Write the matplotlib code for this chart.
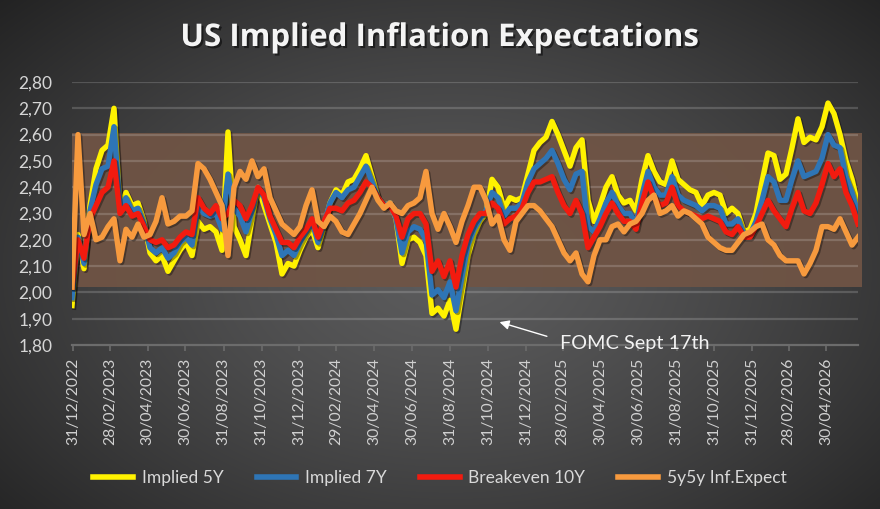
import numpy as np
import pandas as pd
import matplotlib
matplotlib.use("Agg")
import matplotlib.pyplot as plt
import matplotlib.dates as mdates
import matplotlib.patheffects as pe

# ---------------- data ----------------
implied_5y = [1.95, 2.22, 2.09, 2.33, 2.47, 2.54, 2.56, 2.70, 2.32, 2.38, 2.33, 2.34, 2.27, 2.15, 2.12, 2.14,
              2.08, 2.12, 2.16, 2.19, 2.14, 2.27, 2.24, 2.25, 2.23, 2.16, 2.61, 2.25, 2.20, 2.14, 2.28, 2.40,
              2.33, 2.26, 2.19, 2.07, 2.11, 2.10, 2.16, 2.21, 2.24, 2.17, 2.25, 2.34, 2.39, 2.37, 2.42, 2.43,
              2.47, 2.52, 2.44, 2.36, 2.33, 2.34, 2.28, 2.11, 2.20, 2.21, 2.19, 2.14, 1.92, 1.94, 1.91, 1.97,
              1.86, 2.00, 2.14, 2.22, 2.27, 2.30, 2.43, 2.40, 2.32, 2.36, 2.35, 2.36, 2.45, 2.54, 2.57, 2.59,
              2.65, 2.60, 2.54, 2.48, 2.55, 2.58, 2.35, 2.27, 2.33, 2.40, 2.44, 2.37, 2.34, 2.35, 2.31, 2.43,
              2.52, 2.46, 2.42, 2.41, 2.50, 2.43, 2.41, 2.39, 2.38, 2.33, 2.37, 2.38, 2.37, 2.30, 2.32, 2.30,
              2.23, 2.24, 2.30, 2.42, 2.53, 2.52, 2.43, 2.45, 2.55, 2.66, 2.57, 2.59, 2.58, 2.63, 2.72, 2.68,
              2.60, 2.50, 2.43, 2.33]
implied_7y = [1.98, 2.21, 2.11, 2.31, 2.41, 2.47, 2.48, 2.63, 2.32, 2.36, 2.31, 2.32, 2.26, 2.17, 2.15, 2.17,
              2.13, 2.15, 2.19, 2.21, 2.18, 2.33, 2.30, 2.29, 2.30, 2.24, 2.45, 2.32, 2.29, 2.23, 2.31, 2.40,
              2.36, 2.28, 2.22, 2.14, 2.16, 2.14, 2.19, 2.23, 2.27, 2.19, 2.26, 2.34, 2.38, 2.36, 2.39, 2.40,
              2.44, 2.48, 2.42, 2.36, 2.33, 2.34, 2.28, 2.15, 2.23, 2.25, 2.24, 2.20, 1.99, 2.01, 1.98, 2.04,
              1.93, 2.06, 2.18, 2.24, 2.28, 2.31, 2.38, 2.36, 2.29, 2.32, 2.32, 2.34, 2.42, 2.47, 2.49, 2.51,
              2.54, 2.49, 2.43, 2.39, 2.45, 2.46, 2.25, 2.23, 2.28, 2.34, 2.38, 2.33, 2.30, 2.30, 2.26, 2.37,
              2.46, 2.40, 2.37, 2.37, 2.44, 2.37, 2.35, 2.34, 2.33, 2.31, 2.33, 2.33, 2.32, 2.26, 2.26, 2.28,
              2.22, 2.22, 2.27, 2.35, 2.44, 2.42, 2.35, 2.35, 2.43, 2.50, 2.44, 2.45, 2.46, 2.51, 2.60, 2.56,
              2.55, 2.44, 2.38, 2.30]
breakeven_10y = [2.02, 2.20, 2.13, 2.28, 2.33, 2.38, 2.40, 2.50, 2.30, 2.33, 2.29, 2.30, 2.25, 2.20, 2.19, 2.20,
                 2.17, 2.18, 2.21, 2.23, 2.22, 2.36, 2.32, 2.30, 2.33, 2.28, 2.30, 2.35, 2.33, 2.28, 2.33, 2.40,
                 2.37, 2.29, 2.24, 2.19, 2.19, 2.17, 2.21, 2.24, 2.28, 2.21, 2.27, 2.32, 2.32, 2.31, 2.34, 2.35,
                 2.38, 2.42, 2.40, 2.36, 2.33, 2.33, 2.29, 2.21, 2.28, 2.30, 2.30, 2.26, 2.08, 2.12, 2.06, 2.12,
                 2.02, 2.14, 2.22, 2.27, 2.30, 2.30, 2.34, 2.32, 2.26, 2.28, 2.29, 2.32, 2.38, 2.42, 2.42, 2.43,
                 2.44, 2.38, 2.33, 2.30, 2.35, 2.30, 2.17, 2.21, 2.25, 2.30, 2.34, 2.30, 2.27, 2.27, 2.24, 2.34,
                 2.42, 2.36, 2.33, 2.34, 2.40, 2.33, 2.31, 2.30, 2.29, 2.28, 2.29, 2.28, 2.27, 2.23, 2.22, 2.25,
                 2.21, 2.21, 2.25, 2.30, 2.35, 2.31, 2.28, 2.25, 2.32, 2.38, 2.31, 2.30, 2.34, 2.41, 2.49, 2.44,
                 2.47, 2.38, 2.33, 2.26]
fwd_5y5y = [2.02, 2.60, 2.22, 2.30, 2.20, 2.21, 2.25, 2.28, 2.12, 2.24, 2.21, 2.26, 2.21, 2.22, 2.27, 2.36,
            2.26, 2.27, 2.29, 2.29, 2.31, 2.49, 2.47, 2.43, 2.38, 2.33, 2.14, 2.40, 2.46, 2.43, 2.50, 2.44,
            2.47, 2.36, 2.31, 2.26, 2.24, 2.22, 2.25, 2.33, 2.39, 2.27, 2.25, 2.29, 2.27, 2.23, 2.22, 2.26,
            2.30, 2.35, 2.40, 2.35, 2.32, 2.34, 2.31, 2.30, 2.33, 2.34, 2.36, 2.46, 2.30, 2.24, 2.30, 2.25,
            2.19, 2.27, 2.33, 2.40, 2.40, 2.35, 2.26, 2.29, 2.20, 2.16, 2.27, 2.30, 2.33, 2.33, 2.31, 2.28,
            2.25, 2.20, 2.15, 2.12, 2.15, 2.07, 2.04, 2.14, 2.20, 2.20, 2.25, 2.26, 2.23, 2.26, 2.27, 2.30,
            2.35, 2.37, 2.30, 2.31, 2.33, 2.29, 2.31, 2.30, 2.28, 2.26, 2.21, 2.19, 2.17, 2.16, 2.16, 2.19,
            2.22, 2.23, 2.25, 2.26, 2.20, 2.18, 2.14, 2.12, 2.12, 2.12, 2.07, 2.11, 2.16, 2.25, 2.25, 2.24,
            2.28, 2.23, 2.18, 2.21]

series_names = ["Implied 5Y", "Implied 7Y", "Breakeven 10Y", "5y5y Inf.Expect"]
tick_labels = ["31/12/2022", "28/02/2023", "30/04/2023", "30/06/2023", "31/08/2023", "31/10/2023",
               "31/12/2023", "29/02/2024", "30/04/2024", "30/06/2024", "31/08/2024", "31/10/2024",
               "31/12/2024", "28/02/2025", "30/04/2025", "30/06/2025", "31/08/2025", "31/10/2025",
               "31/12/2025", "28/02/2026", "30/04/2026"]
y_ticks = [1.80, 1.90, 2.00, 2.10, 2.20, 2.30, 2.40, 2.50, 2.60, 2.70, 2.80]
band_range = (2.02, 2.605)
start_date, end_date = "2022-12-29", "2026-06-20"

# ---------------- figure ----------------
W, H = 880, 509
fig = plt.figure(figsize=(W / 100, H / 100), dpi=100)

# radial dark-grey background
yy, xx = np.mgrid[0:H, 0:W]
d = np.sqrt(((xx - 450) / 620.0) ** 2 + ((yy - 270) / 400.0) ** 2)
d = np.clip(d, 0, 1)
val = (92 - (92 - 34) * d ** 1.3) / 255.0
bg = np.dstack([val, val, val * 1.01])
bg = np.clip(bg, 0, 1)
bax = fig.add_axes([0, 0, 1, 1], zorder=-10)
bax.imshow(bg, aspect="auto", extent=[0, 1, 0, 1], origin="upper")
bax.axis("off")

left, right = 72 / W, 858 / W
bottom, top = 1 - 345 / H, 1 - 82 / H
ax = fig.add_axes([left, bottom, right - left, top - bottom])
ax.set_facecolor("none")

dates = pd.date_range(start_date, end_date, periods=len(implied_5y))

# band
ax.axhspan(band_range[0], band_range[1], xmin=0, xmax=1.005, color="#6f5445", alpha=0.95,
           zorder=0.5, lw=0, clip_on=False)
# grid lines
for yv in y_ticks[1:]:
    ax.axhline(yv, color="white", alpha=0.17, lw=1.6, zorder=1)

colors = ["#FFF200", "#2E75B6", "#F21B0F", "#F79A3E"]
data = [implied_5y, implied_7y, breakeven_10y, fwd_5y5y]
for i, (name, vals, c) in enumerate(zip(series_names, data, colors)):
    ax.plot(dates, vals, color=c, lw=3.9, label=name, zorder=2 + i, solid_joinstyle="round",
            path_effects=[pe.SimpleLineShadow(offset=(1.2, -1.2), shadow_color="black", alpha=0.35),
                          pe.Normal()])

ax.set_ylim(1.80, 2.80)
ax.set_xlim(pd.Timestamp(start_date), pd.Timestamp(end_date))
ax.set_yticks(y_ticks)
ax.set_yticklabels([f"{v:.2f}".replace(".", ",") for v in y_ticks])
tick_pos = [pd.to_datetime(t, dayfirst=True) for t in tick_labels]
ax.set_xticks(tick_pos)
ax.set_xticklabels(tick_labels, rotation=90)

for s in ["left", "right", "top"]:
    ax.spines[s].set_visible(False)
ax.spines["bottom"].set_color("#6c6c6c")
ax.spines["bottom"].set_linewidth(1.6)

ax.tick_params(axis="y", length=0, pad=14, labelsize=12.5, labelcolor="#d6d6d6")
ax.tick_params(axis="x", length=4, width=1.2, color="#6c6c6c", pad=5, labelsize=11.3,
               labelcolor="#d0d0d0")
for lab in ax.get_yticklabels():
    lab.set_fontfamily("Lato")
for lab in ax.get_xticklabels():
    lab.set_fontfamily("Lato")

# title
fig.text(0.5, 1 - 38 / H, "US Implied Inflation Expectations", ha="center", va="center",
         fontsize=22.5, fontweight="bold", color="#f4f4f4", family="Open Sans",
         path_effects=[pe.withSimplePatchShadow(offset=(1.5, -1.5), shadow_rgbFace="black", alpha=0.5)])

# annotation
ax.annotate("", xy=(pd.Timestamp("2024-11-14"), 1.89), xytext=(pd.Timestamp("2025-02-07"), 1.830),
            arrowprops=dict(arrowstyle="-|>", color="white", lw=1.0, mutation_scale=14),
            zorder=10, annotation_clip=False)
ax.text(pd.Timestamp("2025-02-24"), 1.807, "FOMC Sept 17th", ha="left", va="center", fontsize=14.3,
        color="#f2f2f2", family="Lato", zorder=10, clip_on=False)

# legend
leg = fig.legend(loc="center", bbox_to_anchor=(0.5, 1 - 478 / H), ncol=4, frameon=False,
                 handlelength=2.3, handletextpad=0.5, columnspacing=1.9,
                 prop={"family": "Lato", "size": 12.5})
for t in leg.get_texts():
    t.set_color("#d9d9d9")
for h in leg.legend_handles:
    h.set_linewidth(4)
    h.set_path_effects([])

fig.savefig("out.png", dpi=100)
